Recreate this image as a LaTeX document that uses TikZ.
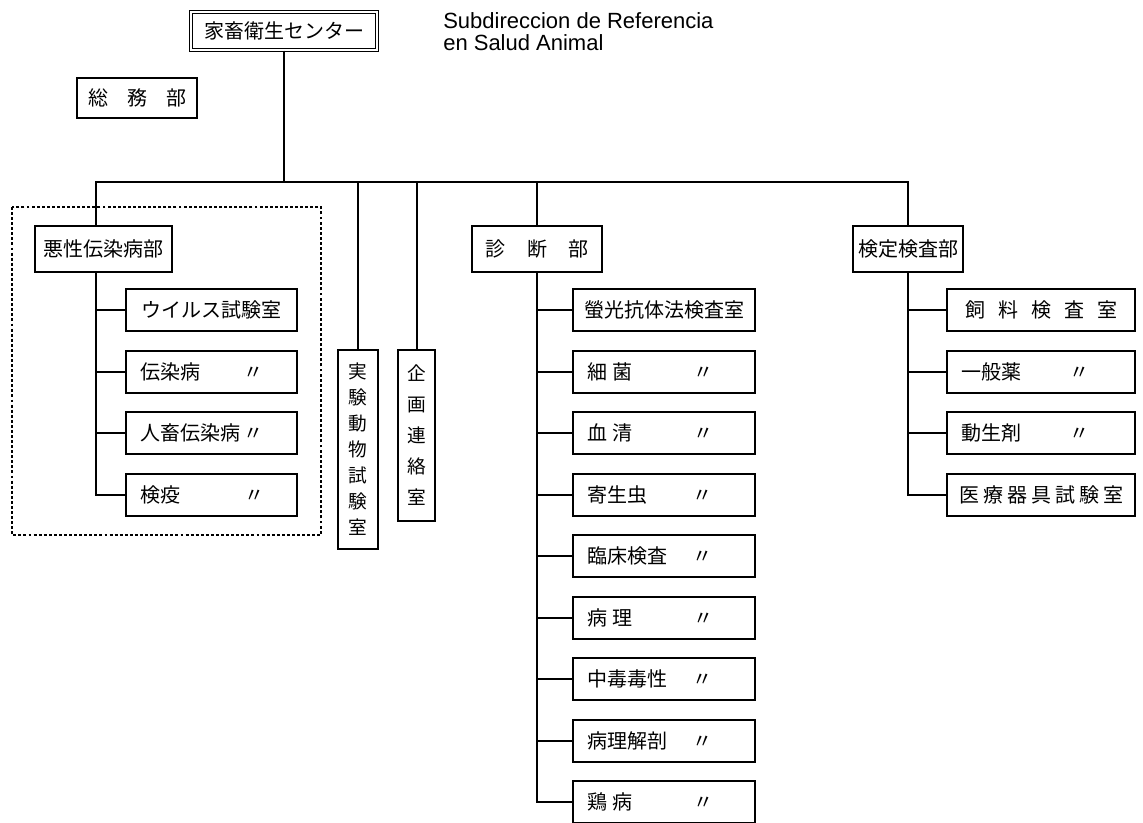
\documentclass[tikz,border=0pt]{standalone}
\usepackage{fontspec}
\newfontfamily\jpfont{Noto Sans CJK JP}
\newfontfamily\latinf{Liberation Sans}
\tikzset{
box/.style={draw, line width=1.5pt, inner sep=0pt, font=\jpfont\fontsize{15}{18}\selectfont},
dept/.style={box, minimum width=#1, minimum height=34.5pt},
room/.style={box, minimum width=#1, minimum height=31.5pt},
tall/.style={box, minimum width=#1, align=center},
link/.style={line width=1.5pt}
}
% label followed by a ditto mark: box width, right margin, label
\newcommand{\idem}[3]{\makebox[#1][s]{\hspace*{.7em}#3\hfill〃\hspace*{#2}}}
\newcommand{\spread}[2]{\makebox[#1][s]{#2}}

\begin{document}
\begin{tikzpicture}[x=0.75pt,y=-0.75pt]
\path[use as bounding box, fill=white] (0,0) rectangle (1143,822);

% head office, note and general affairs
\node[box, double, line width=1pt, double distance=1.5pt, minimum width=139.5pt, minimum height=28.5pt] (top) at (284,31) {家畜衛生センター};
\node[anchor=north west, inner sep=0pt, align=left, font=\latinf\fontsize{16.5}{16.5}\selectfont] (note) at (443,12) {Subdireccion de Referencia\\en Salud Animal};
\node[box, minimum width=90pt, minimum height=30pt] (ga) at (137,98) {\spread{73.5pt}{総\hfill 務\hfill 部}};

% divisions
\coordinate (bar) at (287,182);
\node[dept=102.75pt] (A) at (103.5,249) {悪性伝染病部};
\coordinate (An) at ([xshift=-5.6pt]A.north);
\coordinate (As) at ([xshift=-5.6pt]A.south);
\node[tall=30pt, minimum height=149.25pt, font=\jpfont\fontsize{14}{19.5}\selectfont] (V1) at (358,449.5) {実\\験\\動\\物\\試\\験\\室};
\node[tall=27.75pt, minimum height=128.25pt, font=\jpfont\fontsize{14}{23.25}\selectfont] (V2) at (416.5,435.5) {企\\画\\連\\絡\\室};
\node[dept=97.5pt] (D) at (537,249) {\spread{77.25pt}{診\hfill 断\hfill 部}};
\node[dept=82.5pt] (K) at (908,249) {検定検査部};

\draw[link] (top.south) -- (top.south |- bar);
\draw[link] (An) -- (An |- bar) -- (K.north |- bar) -- (K.north);
\foreach \n in {V1,V2,D}
	\draw[link] (\n.north) -- (\n.north |- bar);

% laboratories
\node[room=128.25pt] (a1) at (211.5,310) {ウイルス試験室};
\foreach \t [count=\i from 2] in {伝染病,人畜伝染病,検疫}
	\node[room=128.25pt] (a\i) at (211.5,{248.5+61.5*\i}) {\idem{128.25pt}{24.75pt}{\t}};
\draw[link] (As) |- (a4.west);
\foreach \i in {1,2,3}
	\draw[link] (a\i.west) -- (a\i.west -| As);
\draw[dashed, line width=1.2pt, dash pattern=on 2.2pt off 1.6pt] (12,207) rectangle (321,535);

\node[room=136.5pt] (d1) at (664,310) {螢光抗体法検査室};
\foreach \t [count=\i from 2] in {細\hspace{.3em}菌,血\hspace{.3em}清,寄生虫,臨床検査,病\hspace{.3em}理,中毒毒性,病理解剖,鶏\hspace{.3em}病}
	\node[room=136.5pt] (d\i) at (664,{248.5+61.5*\i}) {\idem{136.5pt}{31.5pt}{\t}};
\draw[link] (D.south) |- (d9.west);
\foreach \i in {1,...,8}
	\draw[link] (d\i.west) -- (d\i.west -| D.south);

\node[room=141pt] (k1) at (1041,310) {\spread{114pt}{飼\hfill 料\hfill 検\hfill 査\hfill 室}};
\foreach \t [count=\i from 2] in {一般薬,動生剤}
	\node[room=141pt] (k\i) at (1041,{248.5+61.5*\i}) {\idem{141pt}{33.75pt}{\t}};
\node[room=141pt] (k4) at (1041,494.5) {\spread{123pt}{医\hfill 療\hfill 器\hfill 具\hfill 試\hfill 験\hfill 室}};
\draw[link] (K.south) |- (k4.west);
\foreach \i in {1,2,3}
	\draw[link] (k\i.west) -- (k\i.west -| K.south);
\end{tikzpicture}
\end{document}
